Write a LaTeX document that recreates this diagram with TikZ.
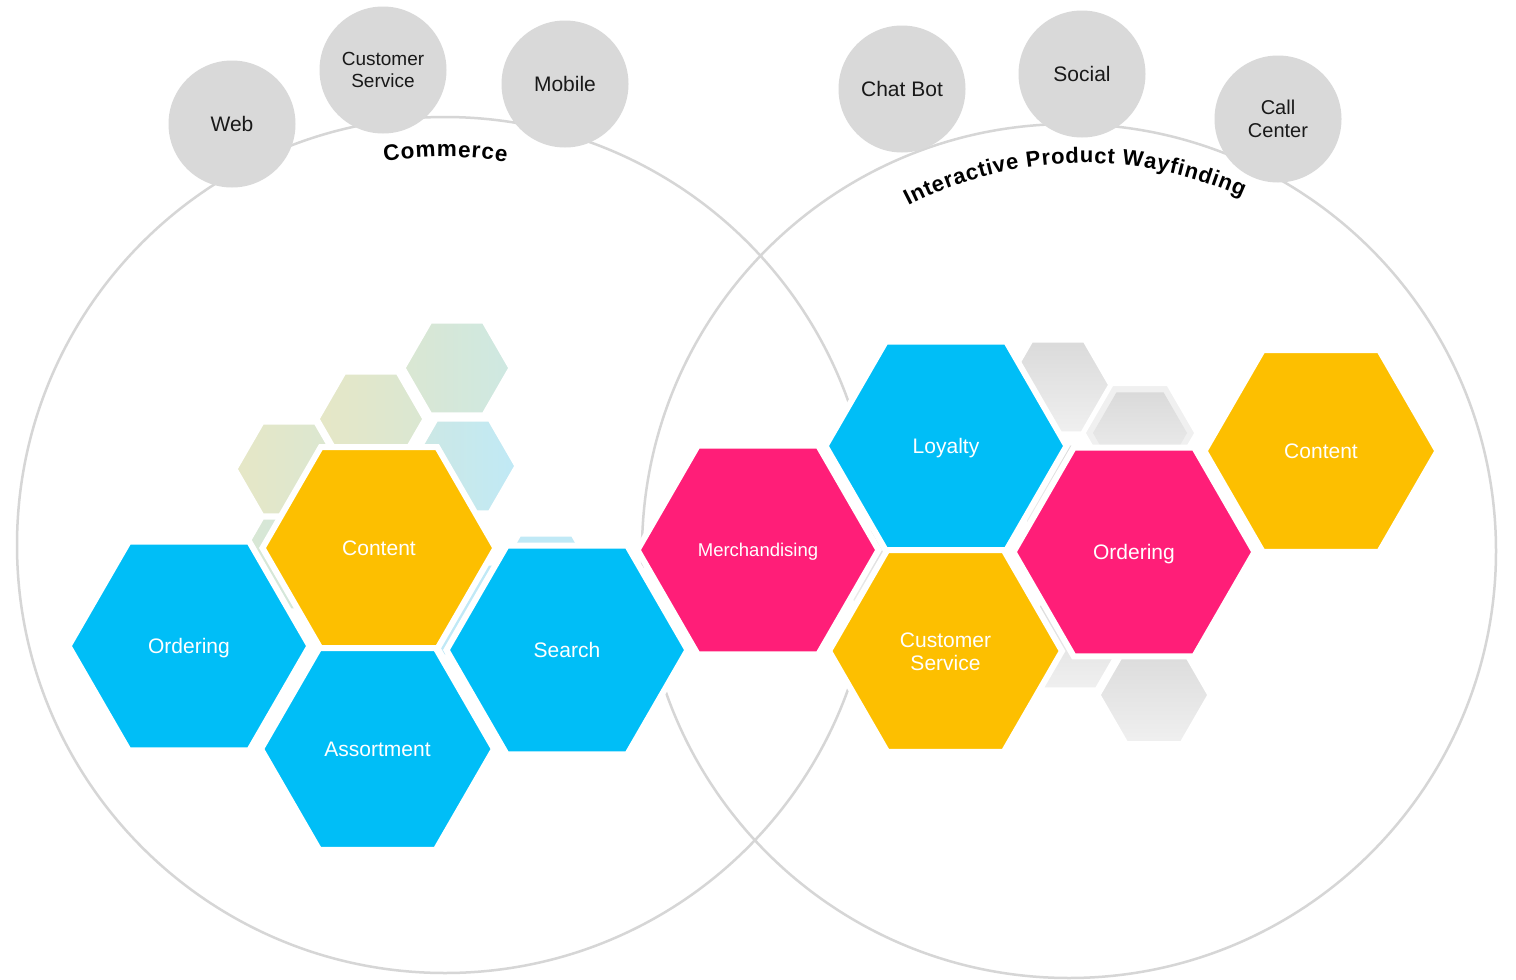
\documentclass[tikz,border=0pt]{standalone}
\usepackage{fontspec}
\setmainfont{Liberation Sans}
\newfontfamily\titlefont{Liberation Sans}
\usetikzlibrary{shapes.geometric,decorations.text}
\definecolor{hexblue}{RGB}{0,190,247}
\definecolor{hexyellow}{RGB}{253,191,0}
\definecolor{hexpink}{RGB}{255,30,120}
\definecolor{chanfill}{RGB}{217,217,217}
\definecolor{ringgray}{RGB}{214,214,214}
\definecolor{fgA}{RGB}{230,231,198}
\definecolor{fgB}{RGB}{218,231,210}
\definecolor{fgC}{RGB}{206,232,226}
\definecolor{fgD}{RGB}{192,233,246}
\definecolor{grA}{RGB}{218,218,218}
\definecolor{grB}{RGB}{240,240,240}
\definecolor{grRing}{RGB}{240,240,240}
\begin{document}
\begin{tikzpicture}[x=1pt,y=1pt,
  hexbase/.style={regular polygon, regular polygon sides=6, inner sep=0pt, draw=white},
  hexbig/.style={hexbase, minimum size=241pt, line width=6pt, text=white,
    font=\fontsize{21}{23}\selectfont, align=center, text height=15pt, text depth=0pt},
  hexmid/.style={hexbig, minimum size=233pt},
  fadehex/.style={hexbase, minimum size=108pt, line width=5pt},
  grayhex/.style={fadehex, top color=grA, bottom color=grB},
  chan/.style={circle, fill=chanfill, minimum size=127pt, inner sep=0pt,
    text=black!90, font=\fontsize{21}{23}\selectfont, align=center},
  bigring/.style={draw=ringgray, line width=2.5pt}]
\useasboundingbox (0,0) rectangle (1516,-980);
\fill[white] (0,0) rectangle (1516,-980);
% big circles
\draw[bigring] (445,-545) circle[radius=428];
\draw[bigring] (1069,-551) circle[radius=427];
% faded hexes (left)
\node[fadehex, left color=fgB, right color=fgC] (fa) at (457,-368) {};
\node[fadehex, left color=fgA, right color=fgB] (fb) at (371,-419) {};
\node[fadehex, left color=fgA, right color=fgB] (fc) at (289,-469) {};
\node[fadehex, left color=fgC, right color=fgD] (fd) at (463,-466) {};
\node[fadehex, left color=fgB, right color=fgC] (fe) at (289,-564) {};
\node[fadehex, left color=fgD, right color=fgD] (ff) at (546,-581) {};
\node[fadehex, left color=fgD, right color=fgD] (fg) at (470,-610) {};
% faded hexes (right)
\node[grayhex] (ga) at (1058,-387) {};
\node[fadehex, fill=grRing, minimum size=114pt] (gb) at (1140,-433) {};
\node[hexbase, draw=none, top color=grA, bottom color=grB, minimum size=94pt] (gbi) at (1140,-433) {};
\node[grayhex] (gc) at (1060,-490) {};
\node[grayhex] (gd) at (890,-575) {};
\node[grayhex] (ge) at (1070,-643) {};
\node[grayhex, minimum size=112pt] (gf) at (1154,-695) {};
% big hexes
\node[hexbig, fill=hexblue] (orderL) at (189,-646) {Ordering};
\node[hexmid, fill=hexyellow] (contentL) at (379,-548) {Content};
\node[hexmid, fill=hexblue] (assort) at (377.5,-749) {Assortment};
\node[hexbig, fill=hexblue] (search) at (567,-650) {Search};
\node[hexbig, fill=hexpink, font=\fontsize{18.5}{21}\selectfont, text height=13pt] (merch) at (758,-550) {Merchandising};
\node[hexbig, fill=hexblue] (loyalty) at (946,-446) {Loyalty};
\node[hexmid, fill=hexyellow, text height=38pt] (custR) at (945.5,-651) {Customer\\Service};
\node[hexbig, fill=hexpink] (orderR) at (1134,-552) {Ordering};
\node[hexmid, fill=hexyellow] (contentR) at (1321,-451) {Content};
% channel circles
\node[chan] (web) at (232,-124) {Web};
\node[chan, font=\fontsize{19}{22}\selectfont] (custsvc) at (383,-70) {Customer\\Service};
\node[chan] (mobile) at (565,-84) {Mobile};
\node[chan] (chatbot) at (902,-89) {Chat Bot};
\node[chan] (social) at (1082,-74) {Social};
\node[chan, font=\fontsize{20}{23}\selectfont] (callc) at (1278,-119) {Call\\Center};
% curved titles
\path[decorate, decoration={text along path, text align=center,
  text={|\titlefont\bfseries\fontsize{22.5}{23}\selectfont\kern0.9pt|Commerce}}]
  (445,-545) ++(110:388) arc[start angle=110, end angle=70, radius=388];
\path[decorate, decoration={text along path, text align=center,
  text={|\titlefont\bfseries\fontsize{22}{23}\selectfont\kern0.75pt|Interactive Product Wayfinding}}]
  (1084,-546) ++(121.5:383) arc[start angle=121.5, end angle=61.5, radius=383];
\end{tikzpicture}
\end{document}
